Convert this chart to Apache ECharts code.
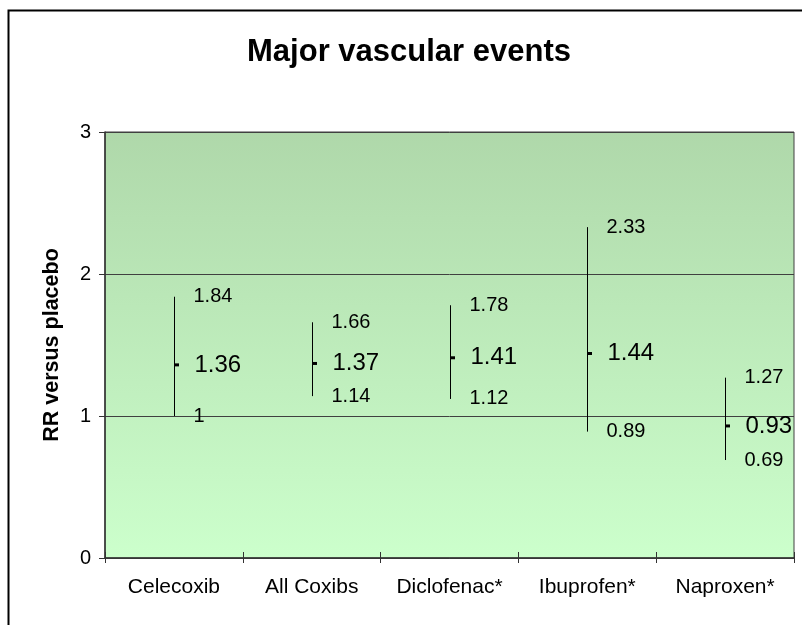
<!DOCTYPE html>
<html>
<head>
<meta charset="utf-8">
<script src="https://cdn.jsdelivr.net/npm/echarts@6/dist/echarts.min.js"></script>
<style>
html,body{margin:0;padding:0;background:#fff;}
#main{width:802px;height:625px;}
</style>
</head>
<body>
<div id="main"></div>
<script>
var categories = ['Celecoxib', 'All Coxibs', 'Diclofenac*', 'Ibuprofen*', 'Naproxen*'];
var lowValues = [1, 1.14, 1.12, 0.89, 0.69];
var meanValues = [1.36, 1.37, 1.41, 1.44, 0.93];
var highValues = [1.84, 1.66, 1.78, 2.33, 1.27];
var yTicks = [0, 1, 2, 3];

var FONT = 'Liberation Sans, Arial, sans-serif';
var chart = echarts.init(document.getElementById('main'), null, {renderer: 'canvas'});

var seriesData = categories.map(function (c, i) {
  return [i, lowValues[i], meanValues[i], highValues[i]];
});

function fmt(v) { return String(v); }

var option = {
  animation: false,
  backgroundColor: '#ffffff',
  title: {
    text: 'Major vascular events',
    left: 404,
    textAlign: 'center',
    top: 32,
    textStyle: {fontFamily: FONT, fontSize: 31, fontWeight: 'bold', color: '#000'}
  },
  graphic: [{
    type: 'rect',
    shape: {x: 8.5, y: 10.5, width: 900, height: 800},
    style: {fill: 'none', stroke: '#000', lineWidth: 2},
    z: 100
  }],
  grid: {
    left: 105, right: 8, top: 132, bottom: 67,
    show: true,
    borderColor: '#404040',
    borderWidth: 1,
    backgroundColor: new echarts.graphic.LinearGradient(0, 0, 0, 1, [
      {offset: 0, color: '#afd8aa'},
      {offset: 1, color: '#ccffcc'}
    ])
  },
  xAxis: [{
    type: 'category',
    data: categories,
    boundaryGap: true,
    axisLine: {show: true, lineStyle: {color: '#333', width: 1.5}},
    axisTick: {show: true, inside: false, length: 5, lineStyle: {color: '#333'}},
    axisLabel: {fontFamily: FONT, fontSize: 21, color: '#000', margin: 19, interval: 0},
    splitLine: {show: false}
  }, {
    type: 'category',
    data: categories,
    position: 'bottom',
    boundaryGap: true,
    axisLine: {show: false},
    axisTick: {show: true, inside: true, length: 6, lineStyle: {color: '#333'}},
    axisLabel: {show: false},
    splitLine: {show: false}
  }],
  yAxis: {
    type: 'value',
    min: 0, max: 3, interval: 1,
    name: 'RR versus placebo',
    nameLocation: 'middle',
    nameRotate: 90,
    nameGap: 42,
    nameTextStyle: {fontFamily: FONT, fontSize: 21.5, fontWeight: 'bold', color: '#000'},
    axisLine: {show: true, lineStyle: {color: '#333', width: 1.5}},
    axisTick: {show: true, inside: false, length: 6, lineStyle: {color: '#333'}},
    axisLabel: {fontFamily: FONT, fontSize: 20, color: '#000', margin: 14,
      formatter: function (v) { return yTicks.indexOf(v) >= 0 ? String(v) : ''; }},
    splitLine: {show: true, lineStyle: {color: '#404040', width: 1}}
  },
  series: [{
    type: 'custom',
    xAxisIndex: 0,
    data: seriesData,
    clip: false,
    renderItem: function (params, api) {
      var i = api.value(0);
      var lo = api.coord([i, api.value(1)]);
      var mid = api.coord([i, api.value(2)]);
      var hi = api.coord([i, api.value(3)]);
      var x = Math.round(lo[0]) + 0.5;
      var tx = x + 19;
      return {
        type: 'group',
        children: [{
          type: 'line',
          shape: {x1: x, y1: hi[1], x2: x, y2: lo[1]},
          style: {stroke: '#000', lineWidth: 1}
        }, {
          type: 'rect',
          shape: {x: x - 0.5, y: mid[1] - 1.5, width: 5, height: 3},
          style: {fill: '#000'}
        }, {
          type: 'text',
          style: {text: fmt(api.value(3)), x: tx, y: hi[1], verticalAlign: 'middle', align: 'left',
            font: '20px ' + FONT, fill: '#000'}
        }, {
          type: 'text',
          style: {text: fmt(api.value(2)), x: tx + 1, y: mid[1], verticalAlign: 'middle', align: 'left',
            font: '24px ' + FONT, fill: '#000'}
        }, {
          type: 'text',
          style: {text: fmt(api.value(1)), x: tx, y: lo[1], verticalAlign: 'middle', align: 'left',
            font: '20px ' + FONT, fill: '#000'}
        }]
      };
    }
  }]
};
chart.setOption(option);
</script>
</body>
</html>
